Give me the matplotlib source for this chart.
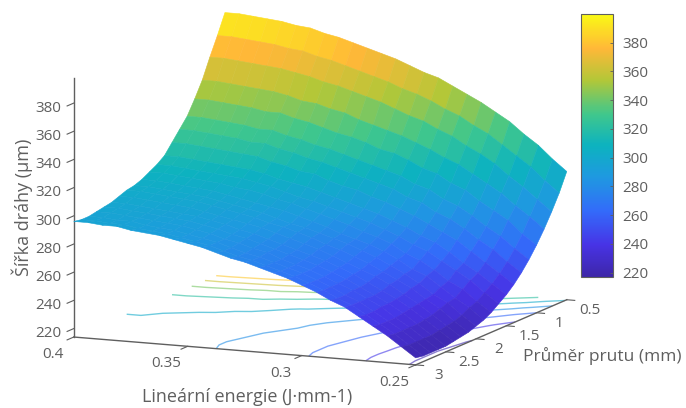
import numpy as np
import matplotlib
matplotlib.use('Agg')
import matplotlib.pyplot as plt
from matplotlib.colors import LinearSegmentedColormap, Normalize
from matplotlib.cm import ScalarMappable
from mpl_toolkits.mplot3d import proj3d

# --- data ---
energie = [0.25, 0.25625, 0.2625, 0.26875, 0.275, 0.28125, 0.2875, 0.29375, 0.30, 0.30625, 0.3125, 0.31875,
           0.325, 0.33125, 0.3375, 0.34375, 0.35, 0.35625, 0.3625, 0.36875, 0.375, 0.38125, 0.3875, 0.39375, 0.40]
prumer = [0.5, 0.625, 0.75, 0.875, 1.0, 1.125, 1.25, 1.375, 1.5, 1.625, 1.75,
          1.875, 2.0, 2.125, 2.25, 2.375, 2.5, 2.625, 2.75, 2.875, 3.0]
sirka = [
    [305, 313, 322, 329, 337, 343, 349, 354, 359, 364, 367, 371, 375, 378, 381, 384, 387, 389, 392, 393, 395, 396, 397, 398, 398],
    [292, 300, 309, 316, 323, 330, 335, 341, 345, 350, 354, 357, 361, 364, 367, 370, 373, 375, 378, 379, 381, 382, 383, 384, 384],
    [281, 289, 297, 304, 312, 318, 323, 329, 333, 338, 341, 345, 349, 352, 355, 358, 360, 363, 365, 367, 368, 369, 370, 371, 371],
    [271, 279, 286, 294, 300, 306, 312, 316, 321, 325, 329, 332, 335, 338, 342, 344, 347, 348, 351, 353, 354, 355, 356, 357, 357],
    [262, 269, 278, 284, 290, 297, 301, 307, 310, 315, 319, 321, 325, 328, 330, 333, 336, 338, 341, 341, 343, 344, 345, 346, 346],
    [254, 261, 269, 275, 282, 288, 292, 298, 301, 306, 309, 312, 315, 318, 321, 323, 326, 328, 331, 331, 333, 334, 335, 336, 336],
    [247, 254, 262, 268, 275, 281, 285, 291, 294, 299, 302, 305, 308, 311, 314, 316, 319, 321, 324, 324, 326, 327, 328, 329, 329],
    [241, 248, 255, 262, 269, 274, 279, 284, 288, 292, 295, 299, 301, 304, 308, 309, 312, 314, 317, 318, 319, 320, 321, 322, 322],
    [236, 243, 250, 256, 263, 269, 273, 278, 282, 286, 289, 292, 295, 298, 301, 303, 305, 308, 310, 311, 312, 313, 314, 315, 315],
    [232, 239, 247, 253, 259, 265, 269, 274, 278, 282, 285, 288, 291, 294, 296, 299, 302, 304, 306, 307, 308, 309, 310, 311, 311],
    [228, 235, 243, 248, 255, 261, 265, 271, 275, 278, 282, 285, 288, 291, 294, 296, 299, 301, 302, 304, 305, 306, 307, 308, 308],
    [225, 233, 239, 246, 253, 257, 263, 268, 272, 275, 278, 282, 285, 288, 291, 293, 295, 297, 299, 301, 302, 303, 304, 305, 305],
    [223, 230, 238, 243, 250, 256, 261, 266, 270, 274, 277, 280, 283, 285, 288, 291, 293, 295, 297, 299, 300, 301, 302, 303, 303],
    [221, 228, 236, 242, 249, 254, 259, 264, 268, 272, 275, 279, 282, 285, 287, 290, 292, 294, 296, 298, 299, 300, 301, 302, 302],
    [220, 227, 234, 241, 247, 253, 258, 262, 266, 270, 274, 277, 280, 283, 286, 288, 290, 292, 294, 296, 297, 298, 299, 300, 300],
    [219, 226, 233, 240, 246, 251, 256, 261, 265, 269, 272, 275, 278, 281, 284, 286, 289, 291, 293, 294, 295, 296, 297, 298, 298],
    [218, 225, 232, 239, 245, 250, 255, 260, 264, 268, 271, 274, 277, 280, 283, 285, 288, 290, 292, 293, 294, 295, 296, 297, 297],
    [218, 225, 232, 238, 245, 250, 255, 259, 263, 267, 270, 273, 277, 279, 282, 284, 287, 289, 291, 292, 293, 294, 295, 296, 296],
    [218, 225, 232, 238, 244, 250, 254, 259, 263, 267, 270, 273, 276, 278, 281, 284, 286, 288, 290, 291, 292, 294, 294, 295, 295],
    [218, 225, 232, 238, 244, 250, 254, 259, 263, 267, 270, 273, 276, 278, 281, 284, 286, 288, 290, 291, 292, 294, 294, 295, 295],
    [219, 226, 233, 239, 245, 251, 255, 260, 264, 268, 271, 274, 277, 279, 282, 285, 287, 289, 291, 292, 293, 295, 295, 296, 296],
]
hladiny = [222, 242, 262, 282, 302, 322, 342, 362, 382]
energie_ticks = [0.25, 0.3, 0.35, 0.4]
prumer_ticks = [0.5, 1, 1.5, 2, 2.5, 3]
sirka_ticks = [220, 240, 260, 280, 300, 320, 340, 360, 380]
cbar_ticks = [220, 240, 260, 280, 300, 320, 340, 360, 380]

# --- style ---
plt.rcParams['font.family'] = ['Open Sans', 'DejaVu Sans']
SEDA = '#5f5f5f'
parula = LinearSegmentedColormap.from_list('parula', [
    (0.00, (0.24, 0.15, 0.66)),
    (0.12, (0.28, 0.20, 0.90)),
    (0.25, (0.20, 0.42, 0.98)),
    (0.38, (0.12, 0.60, 0.88)),
    (0.50, (0.05, 0.70, 0.75)),
    (0.62, (0.25, 0.78, 0.55)),
    (0.75, (0.70, 0.78, 0.22)),
    (0.87, (1.00, 0.72, 0.22)),
    (1.00, (0.98, 0.98, 0.08)),
])
norm = Normalize(217, 400)

X, Y = np.meshgrid(energie, prumer)
Z = np.array(sirka, dtype=float)
z_min = 214
z_max = 398
# barva plosky podle prumeru jejich rohu
Z_plosky = (Z[:-1, :-1] + Z[1:, :-1] + Z[:-1, 1:] + Z[1:, 1:]) / 4

fig = plt.figure(figsize=(6.86, 4.08), dpi=100)
# ctvercove osy vetsi nez obrazek, aby se 3D nic neorezalo
ax = fig.add_axes([-32 / 686, -133 / 408, 1, 686 / 408], projection='3d', proj_type='ortho')
ax.computed_zorder = False
ax.set_box_aspect((353, 359, 250), zoom=0.84)
ax.view_init(elev=10.8, azim=113.5)
ax.set_xlim(0.25, 0.4)
ax.set_ylim(0.5, 3)
ax.set_zlim(z_min, z_max)
ax.set_axis_off()


def popisek(x, y, z, s, **kw):
    # 2D text na promitnute pozici 3D bodu
    px, py, _ = proj3d.proj_transform(x, y, z, ax.get_proj())
    ax.text2D(px, py, s, transform=ax.transData, color=SEDA, fontsize=11, va='center', **kw)


# kontury na podlaze
ax.contour(X, Y, Z, levels=hladiny, zdir='z', offset=z_min, cmap=parula, norm=norm,
           linewidths=1.0, alpha=0.6, zorder=1)

# povrch
ax.plot_surface(X, Y, Z, facecolors=parula(norm(Z_plosky)), rstride=1, cstride=1,
                shade=False, linewidth=0.4, antialiased=True, zorder=3)
# hrany os
ax.plot([0.25, 0.4], [3, 3], [z_min, z_min], color=SEDA, lw=1.0, zorder=2)
ax.plot([0.25, 0.25], [0.5, 3], [z_min, z_min], color=SEDA, lw=1.0, zorder=2)
ax.plot([0.4, 0.4], [3, 3], [z_min, z_max], color=SEDA, lw=1.0, zorder=2)

# znacky a popisky os
for v in energie_ticks:
    ax.plot([v, v], [3, 3.11], [z_min, z_min], color=SEDA, lw=0.8, zorder=2)
    popisek(v, 3.35, z_min - 6, f'{v:g}', ha='center')
for v in prumer_ticks:
    ax.plot([0.25, 0.2465], [v, v], [z_min, z_min], color=SEDA, lw=0.8, zorder=2)
    popisek(0.24, v, z_min - 6, f'{v:g}', ha='center')
for v in sirka_ticks:
    ax.plot([0.4, 0.4], [3, 3.11], [v, v], color=SEDA, lw=0.8, zorder=2)
    popisek(0.4, 3.2, v, f'{v}', ha='right')

fig.text(247 / 686, 1 - 397 / 408, 'Lineární energie (J·mm-1)', color=SEDA, fontsize=13, ha='center', va='center')
fig.text(602 / 686, 1 - 356 / 408, 'Průměr prutu (mm)', color=SEDA, fontsize=12.5, ha='center', va='center')
fig.text(22 / 686, 1 - 207 / 408, 'Šířka dráhy (µm)', color=SEDA, fontsize=13, rotation=90, ha='center', va='center')

# barevna skala
cax = fig.add_axes([581 / 686, 1 - 277 / 408, 32 / 686, 263 / 408])
cb = fig.colorbar(ScalarMappable(norm=norm, cmap=parula), cax=cax, ticks=cbar_ticks)
cb.ax.tick_params(labelsize=11, colors=SEDA, direction='in', length=2, width=0.6, pad=7)
cb.outline.set_edgecolor(SEDA)
cb.outline.set_linewidth(0.8)

fig.savefig('out.png', dpi=100)
